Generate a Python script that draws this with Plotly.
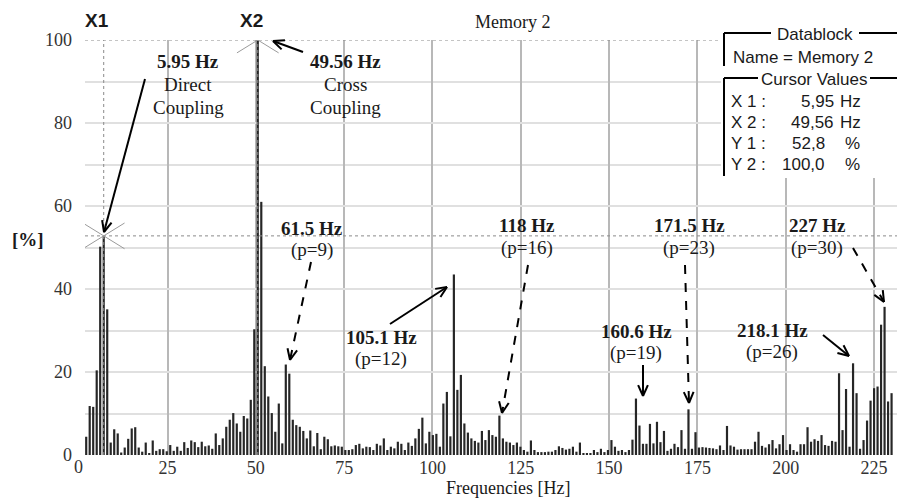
import math
import plotly.graph_objects as go

# ---------------- data ----------------
BIN_HZ = 0.99125                      # spectral resolution of the analyser
bin_index = list(range(1, 232))       # FFT bins shown
amplitude = [
    4.4, 11.8, 11.6, 20.4, 50.2, 52.8, 35.1, 3.0, 6.2, 5.2,
    0.6, 1.8, 3.9, 6.4, 6.7, 1.8, 0.8, 3.0, 0.4, 3.5,
    1.0, 1.4, 1.4, 0.9, 2.4, 1.0, 2.0, 1.0, 3.1, 1.7,
    3.5, 3.1, 1.9, 3.2, 2.1, 2.3, 1.5, 5.2, 2.4, 4.0,
    6.8, 8.5, 10.1, 7.6, 5.6, 9.4, 8.8, 13.3, 30.3, 100.0,
    61.0, 21.4, 14.1, 10.1, 5.6, 12.4, 2.8, 21.8, 19.6, 8.5,
    7.2, 6.8, 5.8, 4.0, 5.9, 2.1, 5.3, 1.4, 4.4, 3.8,
    2.1, 2.3, 2.1, 2.0, 1.2, 1.2, 1.4, 2.4, 2.7, 1.6,
    2.0, 1.9, 1.2, 2.7, 2.3, 4.0, 1.2, 2.0, 1.6, 3.2,
    2.7, 1.2, 3.0, 2.2, 4.0, 6.3, 9.0, 2.8, 5.6, 4.8,
    5.1, 2.0, 12.4, 15.2, 4.5, 43.5, 15.7, 19.3, 7.6, 5.4,
    4.0, 3.4, 3.0, 5.8, 3.6, 6.0, 4.8, 4.4, 9.5, 4.0,
    3.2, 3.0, 2.4, 3.0, 2.0, 1.2, 0.8, 3.5, 1.2, 0.7,
    0.7, 0.7, 0.8, 0.8, 1.2, 2.1, 1.7, 1.3, 1.5, 2.0,
    0.8, 3.0, 0.4, 0.3, 0.3, 1.2, 0.7, 1.5, 0.7, 1.2,
    3.6, 2.0, 1.0, 1.2, 0.7, 1.2, 3.7, 13.6, 7.1, 2.7,
    2.7, 7.5, 2.8, 8.0, 3.1, 5.8, 1.0, 1.5, 2.7, 1.9,
    6.0, 1.5, 11.0, 1.5, 5.5, 1.8, 1.9, 1.8, 1.7, 1.6,
    1.4, 2.3, 1.2, 7.0, 2.3, 2.0, 1.3, 1.4, 1.4, 1.4,
    1.4, 3.2, 5.6, 2.2, 1.8, 2.6, 3.6, 1.6, 2.6, 4.8,
    1.2, 2.6, 1.2, 0.8, 2.6, 2.6, 6.7, 3.2, 3.8, 3.4,
    4.8, 2.4, 2.2, 3.4, 3.2, 19.7, 6.0, 15.9, 2.0, 22.1,
    14.9, 1.5, 3.6, 8.3, 13.1, 16.1, 16.5, 31.4, 35.7, 12.9, 14.9,
]
frequency = [(k + 1) * BIN_HZ for k in bin_index]

cursor_bins = [6, 50]                  # X1, X2
cursor_names = ["X1", "X2"]
x_ticks = [25, 50, 75, 100, 125, 150, 175, 200, 225]
cursor_rows = [("X 1 :", "5,95", "Hz"), ("X 2 :", "49,56", "Hz"),
               ("Y 1 :", "52,8", "%"), ("Y 2 :", "100,0", "%")]

# ---------------- geometry helpers (pixel -> paper) ----------------
W, H = 897, 499
PL, PR, PT, PB = 85, 897, 40, 455
def xp(px): return (px - PL) / (PR - PL)
def yp(py): return (PB - py) / (PB - PT)

SERIF = "Liberation Serif, Times New Roman, serif"
SANS = "Liberation Sans, Arial, sans-serif"

fig = go.Figure()
fig.add_trace(go.Bar(x=frequency, y=amplitude, width=0.62,
                     marker=dict(color="#262626", line=dict(width=0)),
                     hoverinfo="x+y"))

shapes = []
annotations = []

def text(px, py, s, size=19, font=SERIF, anchor="center", color="#1a1a1a"):
    annotations.append(dict(x=xp(px), y=yp(py), xref="paper", yref="paper",
                            text=s, showarrow=False, xanchor=anchor, yanchor="middle",
                            font=dict(family=font, size=size, color=color)))

def pline(x0, y0, x1, y1, color="black", width=2, dash="solid", layer="above"):
    shapes.append(dict(type="line", xref="paper", yref="paper",
                       x0=xp(x0), y0=yp(y0), x1=xp(x1), y1=yp(y1), layer=layer,
                       line=dict(color=color, width=width, dash=dash)))

def arrow(x0, y0, x1, y1, dash="solid", head=12, ang=24):
    pline(x0, y0, x1, y1, dash=dash)
    L = math.hypot(x1 - x0, y1 - y0)
    ux, uy = (x1 - x0) / L, (y1 - y0) / L
    for s in (1, -1):
        a = math.radians(ang) * s
        rx = ux * math.cos(a) - uy * math.sin(a)
        ry = ux * math.sin(a) + uy * math.cos(a)
        pline(x1, y1, x1 - head * rx, y1 - head * ry)

# cursors (data coordinates)
for b in cursor_bins:
    i = bin_index.index(b)
    cx, cy = frequency[i], amplitude[i]
    shapes.append(dict(type="line", xref="x", yref="y", x0=cx, x1=cx, y0=0, y1=100,
                       layer="above", line=dict(color="#8a8a8a", width=1, dash="dot")))
    shapes.append(dict(type="line", xref="paper", yref="y", x0=0, x1=1, y0=cy, y1=cy,
                       layer="above", line=dict(color="#8a8a8a", width=1, dash="dot")))
    dx, dy = 5.9, 3.1
    for sgn in (1, -1):
        shapes.append(dict(type="line", xref="x", yref="y", x0=cx - dx, x1=cx + dx,
                           y0=cy - sgn * dy, y1=cy + sgn * dy, layer="above",
                           line=dict(color="#9a9a9a", width=1)))

# cursor labels above the plot
text(97, 20, "<b>X1</b>", font=SANS)
text(251, 20, "<b>X2</b>", font=SANS)

# Datablock box (white, covering grid)
shapes.append(dict(type="rect", xref="paper", yref="paper", x0=xp(721), x1=xp(900),
                   y0=yp(178), y1=yp(24), fillcolor="white", line=dict(width=0),
                   layer="above"))
pline(724, 33, 724, 66)
pline(724, 33, 771, 33)
pline(859, 33, 900, 33)
pline(724, 78, 724, 176)
pline(724, 78, 758, 78)
pline(870, 78, 900, 78)
text(815, 34, "Datablock", size=17, font=SANS)
text(731, 57, "Name = Memory 2", size=17, font=SANS, anchor="left")
text(814, 79, "Cursor Values", size=17, font=SANS)
for r, (lab, val, unit) in enumerate(cursor_rows):
    yy = 101 + r * 21
    text(729, yy, lab, size=17, font=SANS, anchor="left")
    if unit == "Hz":
        text(836, yy, val, size=17, font=SANS, anchor="right")
        text(838, yy, unit, size=17, font=SANS, anchor="left")
    else:
        text(827, yy, val, size=17, font=SANS, anchor="right")
        text(843, yy, unit, size=17, font=SANS, anchor="left")

# title and axis labels
text(513, 22, "Memory 2", size=18)
text(508, 488, "Frequencies [Hz]", size=18)
text(28, 239, "<b>[%]</b>", size=19)
text(78, 467, "0", size=18, color="#333")

# peak annotations
text(188, 61, "<b>5.95 Hz</b>"); text(188, 84, "Direct"); text(188, 108, "Coupling")
arrow(145, 79, 104, 232)
text(345, 61, "<b>49.56 Hz</b>"); text(345, 84, "Cross"); text(345, 108, "Coupling")
arrow(303, 52, 273, 41)
text(312, 228, "<b>61.5 Hz</b>"); text(312, 250, "(p=9)")
arrow(311, 262, 290, 360, dash="dash")
text(381, 337, "<b>105.1 Hz</b>"); text(381, 359, "(p=12)")
arrow(390, 324, 447, 287)
text(527, 226, "<b>118 Hz</b>"); text(527, 248, "(p=16)")
arrow(528, 265, 502, 413, dash="dash")
text(636, 331, "<b>160.6 Hz</b>"); text(636, 353, "(p=19)")
arrow(643, 365, 643, 396)
text(689, 226, "<b>171.5 Hz</b>"); text(689, 248, "(p=23)")
arrow(685, 265, 689, 403, dash="dash")
text(772, 330, "<b>218.1 Hz</b>"); text(772, 352, "(p=26)")
arrow(823, 335, 849, 356)
text(817, 226, "<b>227 Hz</b>"); text(817, 248, "(p=30)")
arrow(853, 248, 884, 302, dash="dash")

fig.update_layout(
    width=W, height=H,
    margin=dict(l=PL, r=W - PR, t=PT, b=H - PB, pad=0),
    paper_bgcolor="white", plot_bgcolor="white",
    showlegend=False, shapes=shapes, annotations=annotations,
    xaxis=dict(range=[(PL - 79.2) / 3.5325, (PR - 79.2) / 3.5325],
               tickvals=x_ticks, showgrid=True, gridcolor="#b8b8b8", gridwidth=1.5,
               zeroline=False, showline=False, ticks="",
               tickfont=dict(family=SERIF, size=18, color="#333")),
    yaxis=dict(range=[0, 100], tick0=0, dtick=20, showgrid=True,
               gridcolor="#e0e0e0", gridwidth=1.5,
               minor=dict(dtick=10, showgrid=True, gridcolor="#e0e0e0", gridwidth=1.5),
               zeroline=False, showline=False, ticks="", ticklabelstandoff=12,
               tickfont=dict(family=SERIF, size=18, color="#333")),
)

fig.write_html("out.html", config={"displayModeBar": False},
               post_script="document.body.style.margin='0';document.body.style.overflow='hidden';")
